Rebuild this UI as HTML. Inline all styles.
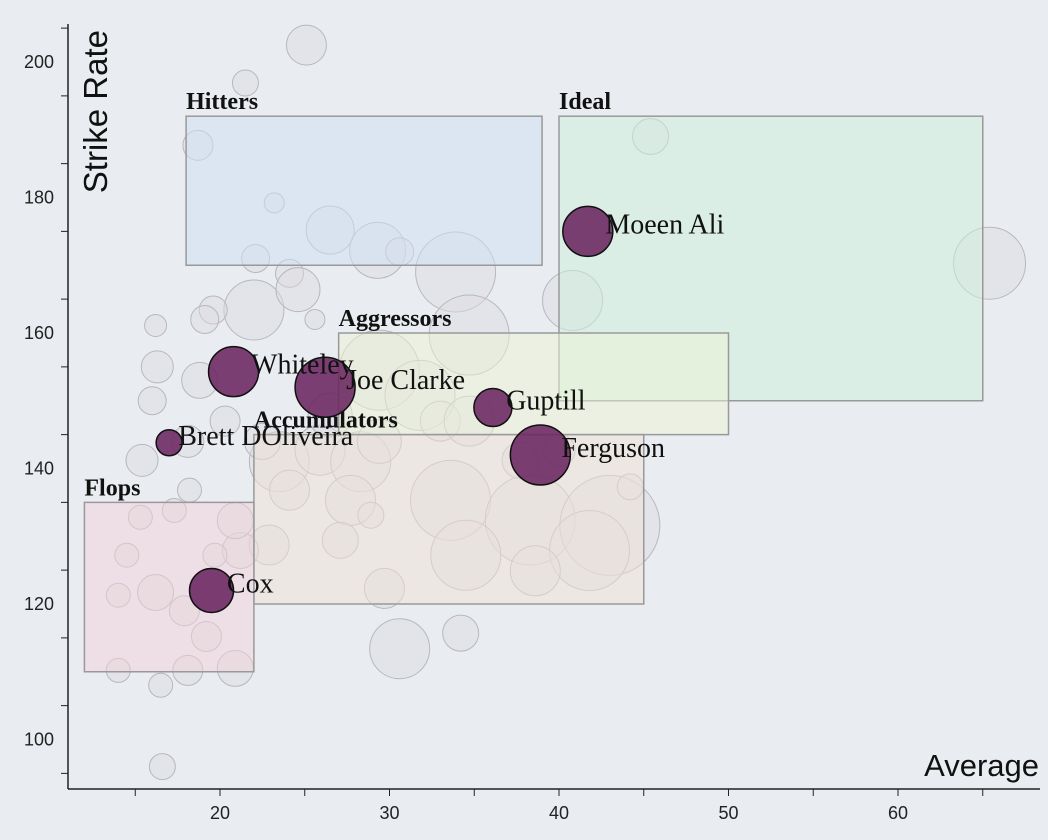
<!DOCTYPE html>
<html><head><meta charset="utf-8"><style>
html,body{margin:0;padding:0;background:#e9ecf0;}
svg{display:block;}
</style></head><body>
<svg id="chart" width="1048" height="840" xmlns="http://www.w3.org/2000/svg">
<rect width="1048" height="840" fill="#e9ecf0"/>
<g id="bg"></g>
<g id="zones"></g>
<g id="hl"></g>
<g id="axes"></g>
</svg>
<script>
const bgAvg=[25.1,21.5,18.7,45.4,23.2,26.5,29.3,33.9,30.6,24.1,22.1,65.4,40.8,22,24.6,19.6,19.1,16.2,25.6,34.7,16.3,16,18.8,29.4,31.8,15.4,20.3,23.5,25.9,28.3,29.4,33,34.7,33.6,38.3,43,41.8,34.5,27.7,28.9,44.2,38.6,30.6,34.2,29.7,24.1,22.9,21.2,20.9,18.2,17.3,15.3,14.5,16.2,14,17.9,19.2,18.1,20.9,14,16.5,16.6,19.7,18.1,22.5,26.5,27.1,37.7,40];
const bgSR=[202.5,196.9,187.7,189,179.2,175.2,172.2,169,172,168.8,171,170.3,164.8,163.4,166.4,163.4,162,161.1,162,159.7,155,150,153,154.5,150.8,141.2,147,141,142.7,141,144,147,147,135.3,132.4,131.6,127.9,127.2,135.3,133.1,137.3,124.9,113.4,115.7,122.3,136.8,128.7,127.9,132.3,136.8,133.8,132.8,127.2,121.7,121.3,119,115.2,110.2,110.5,110.2,108,96,127.2,144,144,147.9,129.4,141.2,142.7];
const bgSize=[20,13,15,18,10,24,28,40,14,14,14,36,30,30,22,14,14,11,10,40,16,14,18,40,35,16,15,30,25,30,22,20,25,40,45,50,40,35,25,13,13,25,30,18,20,20,20,18,18,12,12,12,12,18,12,15,15,15,18,12,12,13,12,16,18,22,18,18,16];
const hlNames=["Moeen Ali","Whiteley","Joe Clarke","Guptill","Ferguson","Brett DOliveira","Cox"];
const hlAvg=[41.7,20.8,26.2,36.1,38.9,17,19.5];
const hlSR=[175,154.3,152,149,142,143.8,122];
const hlSize=[25,25,30,19,30,13,22];
const zoneNames=["Hitters","Ideal","Aggressors","Accumulators","Flops"];
const zoneAvgMin=[18,40,27,22,12];
const zoneAvgMax=[39,65,50,45,22];
const zoneSRMin=[170,150,145,120,110];
const zoneSRMax=[192,192,160,145,135];
const zoneColors=["#cfe0f5","#cdf0da","#eef3d4","#efe2d6","#f2d2da"];
const xTicks=[20,30,40,50,60];
const yTicks=[100,120,140,160,180,200];

const NS="http://www.w3.org/2000/svg";
const x=v=>220+(v-20)*16.95;
const y=v=>62+(200-v)*6.775;
function mk(tag,attrs,parent){const e=document.createElementNS(NS,tag);for(const k in attrs)e.setAttribute(k,attrs[k]);parent.appendChild(e);return e;}
const bg=document.getElementById('bg'),zones=document.getElementById('zones'),hl=document.getElementById('hl'),axes=document.getElementById('axes');

bgAvg.forEach((a,i)=>{
  const c=mk('circle',{cx:x(a),cy:y(bgSR[i]),r:bgSize[i],fill:'#dcdcdf','fill-opacity':0.45,stroke:'#b8b8bc','stroke-width':1},bg);
  
  
});
zoneNames.forEach((n,i)=>{
  const r=mk('rect',{x:x(zoneAvgMin[i]),y:y(zoneSRMax[i]),width:x(zoneAvgMax[i])-x(zoneAvgMin[i]),height:y(zoneSRMin[i])-y(zoneSRMax[i]),fill:zoneColors[i],'fill-opacity':0.5,stroke:'#999','stroke-width':1.5},zones);
  
  
  const t=mk('text',{x:x(zoneAvgMin[i]),y:y(zoneSRMax[i])-7,'font-family':'Liberation Serif, serif','font-weight':'bold','font-size':24,fill:'#111'},zones);
  t.textContent=n;
  
  
});
hlNames.forEach((n,i)=>{
  const c=mk('circle',{cx:x(hlAvg[i]),cy:y(hlSR[i]),r:hlSize[i],fill:'#6a2560','fill-opacity':0.88,stroke:'#111','stroke-width':1.5},hl);
  
  
});
hlNames.forEach((n,i)=>{
  const t=mk('text',{x:x(hlAvg[i])+hlSize[i]*0.7,y:y(hlSR[i])+2,'font-family':'Liberation Serif, serif','font-size':28,fill:'#111'},hl);
  t.textContent=n;
  
  
});
const xl=mk('line',{x1:68,y1:789,x2:1040,y2:789,stroke:'#222','stroke-width':1.5},axes);

const yl=mk('line',{x1:68,y1:24,x2:68,y2:789,stroke:'#222','stroke-width':1.5},axes);

for(let v=15;v<=65;v+=5){
  const tk=mk('line',{x1:x(v),y1:789,x2:x(v),y2:796,stroke:'#222'},axes);
  
}
for(let v=95;v<=205;v+=10){
  const tk=mk('line',{x1:61,y1:y(v),x2:68,y2:y(v),stroke:'#222'},axes);
  
}
xTicks.forEach(v=>{
  const t=mk('text',{x:x(v),y:819,'text-anchor':'middle','font-family':'Liberation Sans, sans-serif','font-size':18,fill:'#222'},axes);
  t.textContent=v;
});
yTicks.forEach(v=>{
  const t=mk('text',{x:54,y:y(v)+6,'text-anchor':'end','font-family':'Liberation Sans, sans-serif','font-size':18,fill:'#222'},axes);
  t.textContent=v;
});
const xt=mk('text',{x:1039,y:776,'text-anchor':'end','font-family':'Liberation Sans, sans-serif','font-size':31,fill:'#111'},axes);
xt.textContent='Average';
const yt=mk('text',{x:0,y:0,transform:'translate(107,30) rotate(-90)','text-anchor':'end','font-family':'Liberation Sans, sans-serif','font-size':33,fill:'#111'},axes);
yt.textContent='Strike Rate';
</script>
</body></html>
